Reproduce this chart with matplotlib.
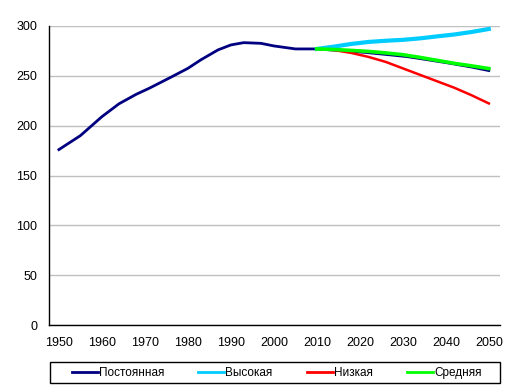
import matplotlib.pyplot as plt
from matplotlib.patches import Rectangle

plt.rcParams['font.family'] = ['Liberation Sans', 'DejaVu Sans']

# history + "constant" scenario
years_const = [1950, 1955, 1960, 1964, 1968, 1971, 1976, 1980, 1983, 1987, 1990,
               1993, 1997, 2000, 2005, 2010, 2015, 2021, 2026, 2031, 2036, 2041, 2046, 2050]
vals_const = [176, 190, 209, 222, 231.5, 237.5, 248.5, 257.5, 266, 276, 281,
              283.3, 282.6, 280, 277, 277, 275.5, 273.6, 271.5, 269.3, 266, 262.6, 258.8, 255.3]

years_proj = [2010, 2014, 2018, 2022, 2026, 2030, 2034, 2038, 2042, 2046, 2050]
vals_high = [277, 279.3, 282, 284, 285.2, 286.1, 287.6, 289.6, 291.5, 294, 297]
vals_low = [277, 275.8, 273, 269, 264, 257.5, 251, 244.5, 238, 230.5, 222.3]
vals_mid = [277, 276.4, 275.5, 274.5, 273, 271.2, 268.5, 265.5, 262.5, 260, 257.3]

labels = ['Постоянная', 'Высокая', 'Низкая', 'Средняя']

fig = plt.figure(figsize=(5.15, 3.9), dpi=100)
ax = fig.add_axes([49 / 515, 65 / 390, 451 / 515, 299 / 390])

ax.plot(years_const, vals_const, color='#000080', lw=2, label=labels[0])
ax.plot(years_proj, vals_high, color='#00CCFF', lw=3, label=labels[1])
ax.plot(years_proj, vals_low, color='#FF0000', lw=1.8, label=labels[2])
ax.plot(years_proj, vals_mid, color='#00FF00', lw=2.6, label=labels[3])

ax.set_xlim(1947.7, 2052.6)
ax.set_ylim(0, 300)
ax.set_xticks(range(1950, 2051, 10))
ax.set_yticks(range(0, 301, 50))
ax.tick_params(length=0, labelsize=9)
ax.tick_params(axis='y', pad=8.5)
ax.tick_params(axis='x', pad=9)
ax.yaxis.grid(True, color='#C0C0C0', lw=1)
ax.set_axisbelow(True)
for s in ['top', 'right']:
    ax.spines[s].set_visible(False)
for s in ['left', 'bottom']:
    ax.spines[s].set_color('black')
    ax.spines[s].set_linewidth(1)

# legend frame drawn separately, entries spread inside it
fig.patches.append(Rectangle((50 / 515, 7 / 390), 450 / 515, 21 / 390,
                             transform=fig.transFigure, fill=False,
                             edgecolor='black', lw=1))
leg = fig.legend(loc='lower left', ncol=4, mode='expand',
                 bbox_to_anchor=(68 / 515, 7 / 390, 417 / 515, 21 / 390),
                 fontsize=8.5, frameon=False,
                 handlelength=2.2, handletextpad=0.1, borderaxespad=0, borderpad=0.3)
for h in leg.get_lines():
    h.set_linewidth(2)

fig.savefig('out.png', dpi=100)
